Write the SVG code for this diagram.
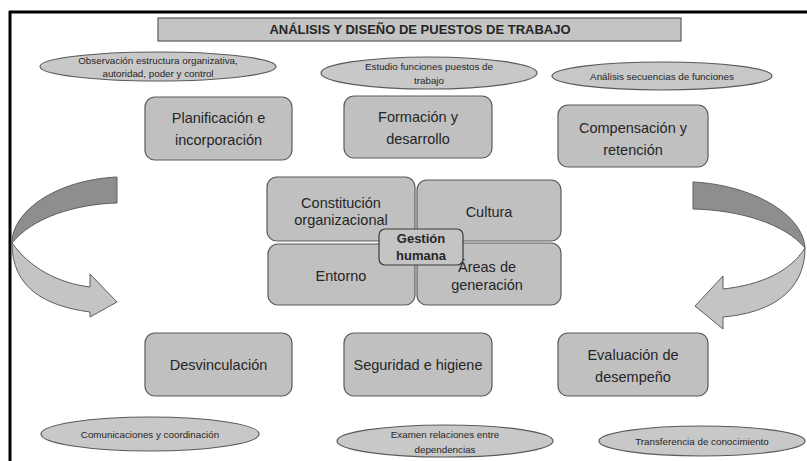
<svg xmlns="http://www.w3.org/2000/svg" width="807" height="461" viewBox="0 0 807 461">
<style>
.box{fill:#c0c0c0;stroke:#5a5a5a;stroke-width:1.2}
.ell{fill:#c8c8c8;stroke:#5a5a5a;stroke-width:1.2}
.t{font-family:"Liberation Sans",Arial,sans-serif;fill:#262626;text-anchor:middle}
.lb{font-size:14.5px}
.sm{font-size:9.8px}
.dark{fill:#8e8e8e;stroke:#5e5e5e;stroke-width:1}
.light{fill:#c4c4c4;stroke:#5e5e5e;stroke-width:1}
</style>
<rect width="807" height="461" fill="#ffffff"/>
<g id="frame">
<line x1="9" y1="12" x2="807" y2="12" stroke="#000" stroke-width="3"/>
<line x1="10" y1="11" x2="10" y2="461" stroke="#000" stroke-width="3"/>
</g>
<g id="title">
<rect x="158" y="18" width="523" height="23" fill="#c4c4c4" stroke="#5a5a5a" stroke-width="1.2"/>
<text class="t" x="420" y="34" font-size="13" font-weight="bold" fill="#000">ANÁLISIS Y DISEÑO DE PUESTOS DE TRABAJO</text>
</g>
<g id="e-observacion">
<ellipse class="ell" cx="158" cy="66.5" rx="118" ry="14.5"/>
<text class="t sm" x="158" y="64">Observación estructura organizativa,</text>
<text class="t sm" x="158" y="76.5">autoridad, poder y control</text>
</g>
<g id="e-estudio">
<ellipse class="ell" cx="429" cy="73" rx="108" ry="16"/>
<text class="t sm" x="429" y="70">Estudio funciones puestos de</text>
<text class="t sm" x="429" y="83.5">trabajo</text>
</g>
<g id="e-analisis">
<ellipse class="ell" cx="662" cy="76" rx="110" ry="14"/>
<text class="t sm" x="662" y="79.5">Análisis secuencias de funciones</text>
</g>
<g id="n-planificacion">
<rect class="box" x="145" y="97" width="147" height="63" rx="10"/>
<text class="t lb" x="218.5" y="123">Planificación e</text>
<text class="t lb" x="218.5" y="145">incorporación</text>
</g>
<g id="n-formacion">
<rect class="box" x="344" y="96" width="148" height="62" rx="10"/>
<text class="t lb" x="418" y="122">Formación y</text>
<text class="t lb" x="418" y="144">desarrollo</text>
</g>
<g id="n-compensacion">
<rect class="box" x="558" y="105" width="150" height="62" rx="10"/>
<text class="t lb" x="633" y="133">Compensación y</text>
<text class="t lb" x="633" y="155">retención</text>
</g>
<g id="n-constitucion">
<rect class="box" x="267" y="177" width="148" height="64" rx="10"/>
<text class="t lb" x="341" y="208">Constitución</text>
<text class="t lb" x="341" y="225">organizacional</text>
</g>
<g id="n-cultura">
<rect class="box" x="417" y="180" width="144" height="61" rx="10"/>
<text class="t lb" x="489" y="217">Cultura</text>
</g>
<g id="n-entorno">
<rect class="box" x="268" y="244" width="147" height="61" rx="10"/>
<text class="t lb" x="341" y="281">Entorno</text>
</g>
<g id="n-areas">
<rect class="box" x="417" y="243" width="144" height="62" rx="10"/>
<text class="t lb" x="487" y="272">Áreas de</text>
<text class="t lb" x="487" y="290">generación</text>
</g>
<g id="n-gestion">
<rect x="379" y="229" width="84" height="36" rx="6" fill="#c4c4c4" stroke="#3a3a3a" stroke-width="1.2"/>
<text class="t" x="421" y="243" font-size="13" font-weight="bold" fill="#000">Gestión</text>
<text class="t" x="421" y="260" font-size="13" font-weight="bold" fill="#000">humana</text>
</g>
<g id="n-desvinculacion">
<rect class="box" x="145" y="333" width="147" height="63" rx="10"/>
<text class="t lb" x="218.5" y="370">Desvinculación</text>
</g>
<g id="n-seguridad">
<rect class="box" x="344" y="333" width="148" height="63" rx="10"/>
<text class="t lb" x="418" y="370">Seguridad e higiene</text>
</g>
<g id="n-evaluacion">
<rect class="box" x="558" y="333" width="150" height="63" rx="10"/>
<text class="t lb" x="633" y="360">Evaluación de</text>
<text class="t lb" x="633" y="382">desempeño</text>
</g>
<g id="e-comunicaciones">
<ellipse class="ell" cx="150" cy="434" rx="109" ry="17"/>
<text class="t sm" x="150" y="437.5">Comunicaciones y coordinación</text>
</g>
<g id="e-examen">
<ellipse class="ell" cx="445" cy="441" rx="108" ry="16"/>
<text class="t sm" x="445" y="438">Examen relaciones entre</text>
<text class="t sm" x="445" y="453">dependencias</text>
</g>
<g id="e-transferencia">
<ellipse class="ell" cx="702" cy="441" rx="103" ry="15"/>
<text class="t sm" x="702" y="444.5">Transferencia de conocimiento</text>
</g>
<g id="connectors">
<g id="arrow-left">
<path class="dark" d="M117,177 L117,203 C75,204 32,218 12,243 C12,212 55,180 117,177 Z"/>
<path class="light" d="M12,243 C30,268 58,283 90,287 L90,274 L117,302 L90,317 L90,312 C45,306 12,288 12,243 Z"/>
</g>
<g id="arrow-right">
<path class="dark" d="M693,182 L693,209 C740,210 785,224 805,248 C803,214 752,185 693,182 Z"/>
<path class="light" d="M805,248 C790,272 760,285 723,289 L723,276 L695,306 L723,329 L723,317 C770,313 805,292 805,248 Z"/>
</g>
</g>
</svg>
